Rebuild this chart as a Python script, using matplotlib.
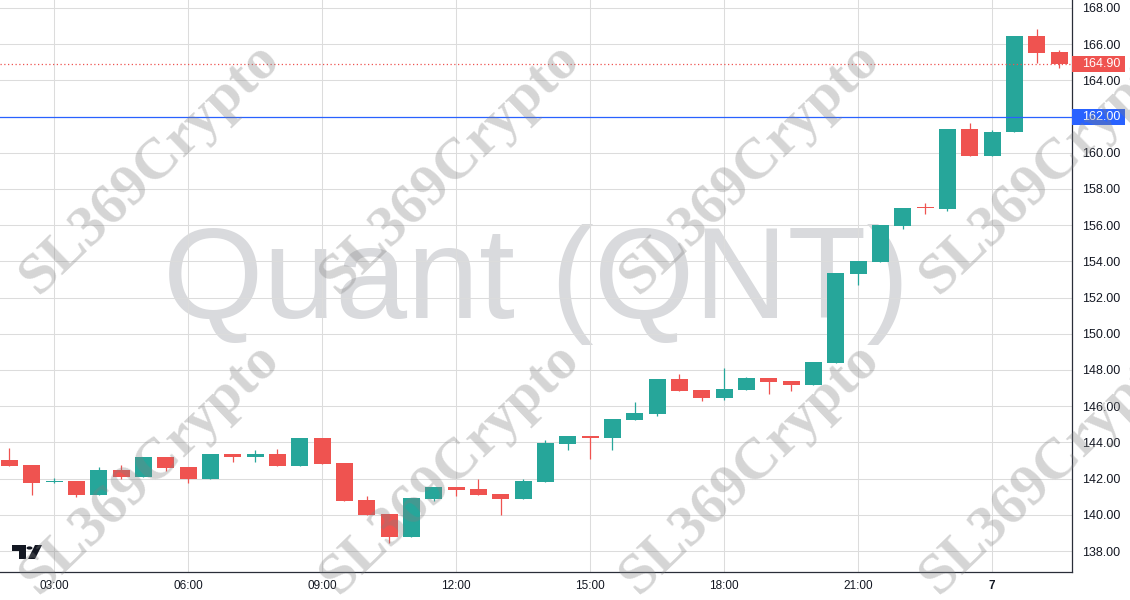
import numpy as np
import matplotlib.pyplot as plt
from matplotlib.patches import Rectangle, Polygon, Circle
from matplotlib.transforms import blended_transform_factory

plt.rcParams['font.family'] = ['Liberation Sans', 'DejaVu Sans']

# 30 minute candles, 02:00 on the 6th to 01:30 on the 7th (x in hours)
hours = np.arange(48) * 0.5 + 2.0

opens = [143.03, 142.75, 141.80, 141.87, 141.10, 142.48, 142.10, 143.20, 142.64, 141.98,
         143.36, 143.18, 143.36, 142.71, 144.24, 142.86, 140.82, 140.04, 138.77, 140.87,
         141.54, 141.43, 141.15, 140.87, 141.81, 143.93, 144.35, 144.26, 145.24, 145.59,
         147.50, 146.90, 146.47, 146.92, 147.56, 147.39, 147.17, 148.40, 153.32, 153.97,
         155.97, 156.95, 156.91, 161.31, 159.84, 161.13, 166.47, 165.57]
highs = [143.69, 142.75, 142.05, 141.87, 142.66, 142.75, 143.20, 143.20, 142.64, 143.36,
         143.36, 143.58, 143.64, 144.24, 144.24, 142.86, 141.04, 140.04, 140.93, 141.54,
         141.54, 141.99, 141.15, 141.99, 144.13, 144.35, 144.35, 145.29, 146.23, 147.50,
         147.78, 146.90, 148.11, 147.62, 147.56, 147.39, 148.44, 153.36, 154.02, 156.01,
         156.95, 157.21, 161.31, 161.65, 161.26, 166.47, 166.84, 165.68]
lows = [142.71, 141.10, 141.75, 140.98, 141.10, 141.98, 142.10, 142.42, 141.77, 141.98,
        142.93, 142.93, 142.71, 142.71, 142.82, 140.78, 139.99, 138.46, 138.77, 140.76,
        141.04, 141.10, 139.99, 140.87, 141.81, 143.58, 143.08, 143.58, 145.24, 145.46,
        146.86, 146.29, 146.36, 146.92, 146.69, 146.86, 147.17, 148.40, 152.71, 153.97,
        155.81, 156.64, 156.80, 159.84, 159.84, 161.13, 164.98, 164.70]
closes = [142.71, 141.77, 141.85, 141.10, 142.48, 142.10, 143.20, 142.60, 141.98, 143.36,
          143.18, 143.36, 142.71, 144.24, 142.82, 140.78, 139.99, 138.77, 140.93, 141.54,
          141.37, 141.10, 140.87, 141.87, 143.97, 144.35, 144.26, 145.29, 145.62, 147.50,
          146.86, 146.47, 146.95, 147.56, 147.35, 147.19, 148.44, 153.36, 154.02, 156.01,
          156.95, 156.93, 161.31, 159.84, 161.15, 166.47, 165.53, 164.90]

tick_hours = [3, 6, 9, 12, 15, 18, 21, 24]
tick_labels = ['03:00', '06:00', '09:00', '12:00', '15:00', '18:00', '21:00', '7']
price_ticks = np.arange(138, 169, 2)

last_price = 164.90
line_price = 162.00

UP = '#26a69a'
DOWN = '#ef5350'
TEXT = '#131722'

W, H = 1130, 600
fig = plt.figure(figsize=(W / 100, H / 100), dpi=100)
ax = fig.add_axes([0, 28 / H, 1072 / W, 572 / H])
ax.set_xlim(1.79, 25.79)
ax.set_ylim(136.84, 168.44)
ax.set_axisbelow(True)

# candles
for t, o, h, l, c in zip(hours, opens, highs, lows, closes):
    col = UP if c >= o else DOWN
    ax.vlines(t, l, h, color=col, lw=0.9, zorder=3)
    body = max(abs(c - o), 0.06)
    ax.bar(t, body, bottom=min(o, c), width=0.38, color=col, lw=0, zorder=4)

# symbol watermark
ax.text(0.5, 1 - 318 / 572, 'Quant (QNT)', transform=ax.transAxes, ha='center',
        va='baseline', fontsize=93, color='#d9dadd', zorder=0.4)

# price lines
ax.axhline(line_price, color='#2962ff', lw=0.9, zorder=5)
ax.axhline(last_price, color=DOWN, lw=0.9, ls=(0, (1, 2)), zorder=5)

ax.set_xticks(tick_hours)
ax.set_xticklabels(tick_labels)
ax.get_xticklabels()[-1].set_fontweight('bold')
ax.set_yticks(price_ticks)
ax.set_yticklabels(['%.2f' % p for p in price_ticks])
ax.yaxis.tick_right()
ax.tick_params(axis='y', length=0, pad=7, labelsize=9, labelcolor=TEXT)
ax.tick_params(axis='x', length=0, pad=6, labelsize=8.5, labelcolor=TEXT)
ax.grid(True, color='#dcdcdc', lw=0.75)

for side in ['left', 'top']:
    ax.spines[side].set_visible(False)
for side in ['right', 'bottom']:
    ax.spines[side].set_color('#2a2e39')
    ax.spines[side].set_linewidth(0.9)

# price labels on the scale
tr = blended_transform_factory(fig.transFigure, ax.transData)
half = 8 / 18.1
for price, col in [(last_price, DOWN), (line_price, '#2962ff')]:
    ax.add_patch(Rectangle((1072 / W, price - half), 53 / W, 2 * half, transform=tr,
                           color=col, lw=0, clip_on=False, zorder=10))
    ax.text(1082 / W, price, '%.2f' % price, transform=tr, ha='left', va='center',
            fontsize=9, color='white', clip_on=False, zorder=11)


def px(x, y):
    return (x / W, 1 - y / H)


# small logo bottom left
logo = dict(color=TEXT, transform=fig.transFigure, lw=0)
fig.add_artist(Polygon([px(12, 545), px(26, 545), px(26, 559), px(19, 559),
                        px(19, 551), px(12, 551)], **logo))
fig.add_artist(Polygon([px(28, 559), px(35, 545), px(42, 545), px(35, 559)], **logo))
fig.add_artist(Circle(px(29.5, 548), 3 / W, **logo))

# overlay watermark
for cy in [168, 468]:
    for cx in [150, 450, 750, 1050]:
        fig.text(cx / W, 1 - cy / H, 'SL369Crypto', rotation=44, rotation_mode='anchor',
                 ha='center', va='center', fontsize=42, family='Liberation Serif',
                 weight='bold', color='gray', alpha=0.33, zorder=20)

fig.savefig('out.png', dpi=100)
